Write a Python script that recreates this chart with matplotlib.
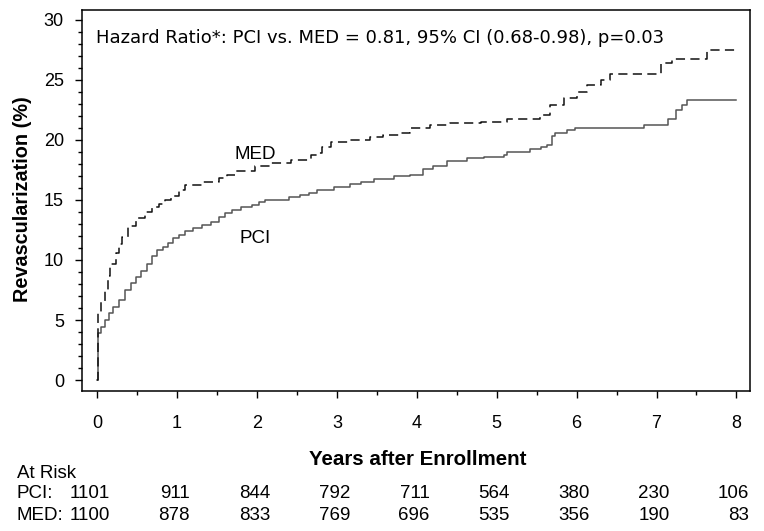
import matplotlib.pyplot as plt

# cumulative revascularization (%)
pci_years = [0, 0.005, 0.01, 0.05, 0.10, 0.15, 0.20, 0.27, 0.35, 0.42, 0.48, 0.55,
             0.62, 0.68, 0.75, 0.82, 0.89, 0.95, 1.02, 1.10, 1.20, 1.31, 1.42, 1.52,
             1.60, 1.69, 1.80, 1.94, 2.02, 2.10, 2.40, 2.54, 2.65, 2.75, 2.96, 3.17,
             3.30, 3.46, 3.71, 3.92, 4.08, 4.20, 4.38, 4.63, 4.84, 5.09, 5.13, 5.42,
             5.55, 5.63, 5.69, 5.73, 5.88, 5.98, 6.84, 7.15, 7.25, 7.32, 7.38, 8.0]
pci_pct = [0, 3.0, 3.9, 4.4, 5.0, 5.6, 6.1, 6.7, 7.5, 8.1, 8.6, 9.1,
           9.7, 10.3, 10.8, 11.1, 11.4, 11.8, 12.1, 12.4, 12.7, 12.9, 13.2, 13.6,
           13.9, 14.2, 14.4, 14.6, 14.8, 15.0, 15.2, 15.4, 15.6, 15.8, 16.1, 16.3,
           16.5, 16.7, 16.95, 17.1, 17.6, 17.8, 18.2, 18.5, 18.6, 18.75, 19.0, 19.2,
           19.4, 19.6, 20.3, 20.6, 20.8, 21.0, 21.25, 21.7, 22.5, 22.9, 23.3, 23.3]

med_years = [0, 0.01, 0.05, 0.10, 0.13, 0.16, 0.23, 0.27, 0.31, 0.39, 0.48, 0.60,
             0.68, 0.77, 0.85, 0.93, 1.02, 1.10, 1.31, 1.52, 1.62, 1.73, 1.98, 2.17,
             2.42, 2.67, 2.75, 2.81, 2.92, 3.17, 3.42, 3.58, 3.79, 3.92, 4.17, 4.42,
             4.80, 5.13, 5.54, 5.67, 5.84, 6.00, 6.13, 6.30, 6.42, 7.05, 7.19, 7.63, 8.0]
med_pct = [0, 5.55, 6.5, 7.5, 8.7, 9.7, 10.6, 11.3, 11.9, 12.8, 13.5, 14.0,
           14.4, 14.7, 15.0, 15.3, 15.8, 16.25, 16.5, 16.8, 17.1, 17.4, 17.8, 18.05,
           18.3, 18.75, 18.9, 19.4, 19.8, 20.0, 20.2, 20.4, 20.6, 20.97, 21.25, 21.4,
           21.45, 21.7, 22.1, 22.9, 23.5, 24.0, 24.6, 25.0, 25.5, 26.4, 26.7, 27.45, 27.45]

risk_years = [0, 1, 2, 3, 4, 5, 6, 7, 8]
pci_risk = [1101, 911, 844, 792, 711, 564, 380, 230, 106]
med_risk = [1100, 878, 833, 769, 696, 535, 356, 190, 83]

plt.rcParams['font.family'] = ['Liberation Sans', 'DejaVu Sans']
W, H = 764, 531

fig = plt.figure(figsize=(7.64, 5.31), dpi=100)
ax = fig.add_axes([82 / W, 1 - 391 / H, 668 / W, 381 / H])

ax.step(pci_years, pci_pct, where='post', color='#555555', linewidth=1.1)
ax.step(med_years, med_pct, where='post', color='#111111', linewidth=1.1,
        linestyle=(0, (6, 3.5)))

ax.set_xlim(-0.19, 8.17)
ax.set_ylim(-0.9, 30.8)
ax.set_xticks(range(0, 9))
ax.set_xticks([x + 0.5 for x in range(8)], minor=True)
ax.set_yticks(range(0, 31, 5))
ax.set_yticks(range(0, 31), minor=True)
ax.tick_params(which='major', direction='out', length=5, width=1, color='black',
               labelsize=13)
ax.tick_params(which='minor', direction='out', length=3, width=1, color='black')
ax.tick_params(axis='x', which='major', pad=12)
ax.tick_params(axis='y', which='major', pad=8)
for s in ax.spines.values():
    s.set_linewidth(1.1)

ax.text(-0.01, 28.46, 'Hazard Ratio*: PCI vs. MED = 0.81, 95% CI (0.68-0.98), p=0.03',
        fontsize=13, va='center', ha='left', family=['DejaVu Sans'])
ax.text(1.98, 18.8, 'MED', fontsize=13.5, ha='center', va='center')
ax.text(1.98, 11.8, 'PCI', fontsize=13.5, ha='center', va='center')

fig.text(23 / W, 1 - 199.5 / H, 'Revascularization (%)', fontsize=14.3,
         fontweight='bold', rotation=90, ha='center', va='center')
fig.text(417.5 / W, 1 - 459.5 / H, 'Years after Enrollment', fontsize=14.8,
         fontweight='bold', ha='center', va='center')

# at-risk table: numbers right-aligned just right of each year tick
y_at = 1 - 473 / H
y_pci = 1 - 494 / H
y_med = 1 - 515 / H
tfs = 13.5
fig.text(17 / W, y_at, 'At Risk', fontsize=tfs, va='center')
fig.text(17 / W, y_pci, 'PCI:', fontsize=tfs, va='center')
fig.text(17 / W, y_med, 'MED:', fontsize=tfs, va='center')
for yr, p, m in zip(risk_years, pci_risk, med_risk):
    px = ax.transData.transform((yr, 0))[0] + 13
    xf = px / W
    fig.text(xf, y_pci, str(p), fontsize=tfs, va='center', ha='right')
    fig.text(xf, y_med, str(m), fontsize=tfs, va='center', ha='right')

fig.savefig('out.png', dpi=100)
